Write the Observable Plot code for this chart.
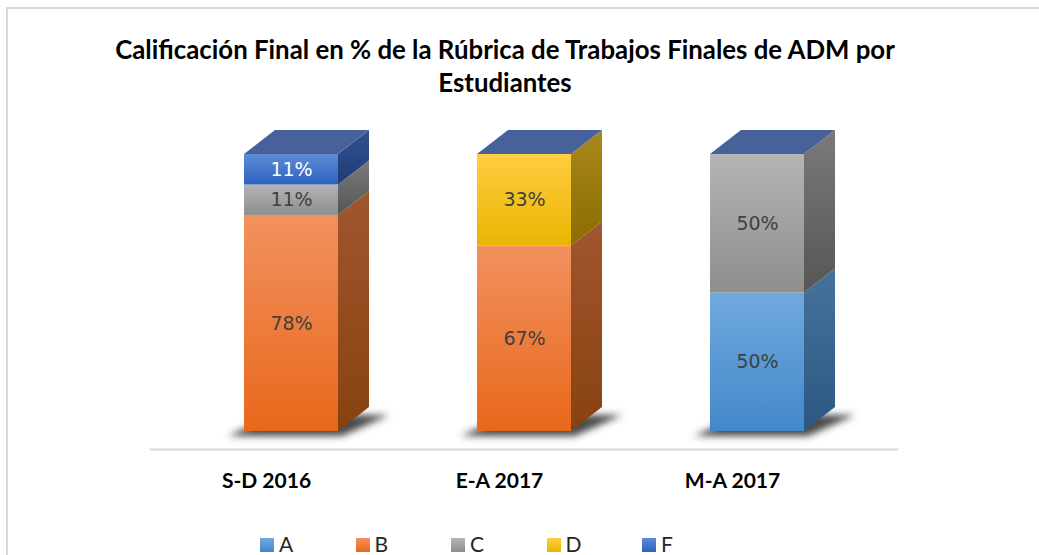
<!DOCTYPE html>
<html>
<head>
<meta charset="utf-8">
<script src="https://cdn.jsdelivr.net/npm/d3@7"></script>
<script src="https://cdn.jsdelivr.net/npm/@observablehq/plot@0.6"></script>
<style>
  html, body { margin: 0; padding: 0; background: #fff; }
  #page { position: relative; width: 1039px; height: 555px; overflow: hidden; background: #fff; }
  #frame { position: absolute; left: 6px; top: 7px; width: 1100px; height: 700px; border: 2px solid #d9d9d9; box-sizing: border-box; }
  #title { position: absolute; left: 0; top: 33px; width: 1010px; text-align: center; font-family: Lato, "Open Sans", sans-serif; font-weight: bold; font-size: 21px; line-height: 33px; color: #000; }
  #chart { position: absolute; left: 0; top: 100px; }
  #legend { position: absolute; left: 0; top: 534px; width: 1039px; height: 24px; font-family: Lato, "Open Sans", sans-serif; font-size: 21px; color: #262626; }
  .item { position: absolute; top: 0; height: 24px; }
  .sw { position: absolute; left: 0; top: 4px; width: 14px; height: 14px; }
  .lb { position: absolute; left: 19px; top: -2px; line-height: 24px; }
</style>
</head>
<body>
<div id="page">
  <div id="frame"></div>
  <div id="title"><span id="t1">Calificación Final en % de la Rúbrica de Trabajos Finales de ADM por</span><br><span>Estudiantes</span></div>
  <div id="chart"></div>
  <div id="legend"></div>
</div>
<script>
// ---- data ----
const categories = ["S-D 2016", "E-A 2017", "M-A 2017"];
const grades = ["A", "B", "C", "D", "F"];
const valuesA = [0, 0, 0.50];
const valuesB = [0.78, 0.67, 0];
const valuesC = [0.11, 0, 0.50];
const valuesD = [0, 0.33, 0];
const valuesF = [0.11, 0, 0];

// ---- styles ----
const frontColors = {A: ["#70a9de", "#4388cb"], B: ["#f2915f", "#e8681b"], C: ["#b5b5b5", "#8e8e8e"], D: ["#ffcd42", "#e9b500"], F: ["#5d8cd9", "#2f61bf"]};
const sideColors  = {A: ["#46729c", "#2b5882"], B: ["#a0562f", "#88420f"], C: ["#7a7a7a", "#565656"], D: ["#a9881c", "#8a6c00"], F: ["#31528f", "#203b75"]};
const topColor = "#47629b";
const labelColors = {A: "#404040", B: "#404040", C: "#404040", D: "#404040", F: "#ffffff"};

const seriesValues = {A: valuesA, B: valuesB, C: valuesC, D: valuesD, F: valuesF};
const rows = [];
grades.forEach(g => categories.forEach((c, i) => {
  const v = seriesValues[g][i];
  if (v > 0) rows.push({cat: c, grade: g, value: v});
}));

const DX = 31, DY = 24;
const NS = "http://www.w3.org/2000/svg";
function el(name, attrs) {
  const e = document.createElementNS(NS, name);
  for (const k in attrs) e.setAttribute(k, attrs[k]);
  return e;
}

function render3d(index, scales, values, dimensions, context, next) {
  const bars = next(index, scales, values, dimensions, context);
  const bw = scales.x.bandwidth();
  const out = el("g", {});
  const shadows = el("g", {filter: "url(#blur)"});
  const sides = el("g", {});
  const tops = el("g", {});
  const topByX = new Map();
  const baseByX = new Map();
  for (const i of index) {
    const x0 = values.x[i];
    const yT = Math.min(values.y1[i], values.y2[i]);
    const yB = Math.max(values.y1[i], values.y2[i]);
    const g = rows[i].grade;
    sides.appendChild(el("polygon", {
      points: `${x0 + bw},${yB} ${x0 + bw + DX},${yB - DY} ${x0 + bw + DX},${yT - DY} ${x0 + bw},${yT}`,
      fill: `url(#s${g})`
    }));
    if (!topByX.has(x0) || yT < topByX.get(x0)) topByX.set(x0, yT);
    if (!baseByX.has(x0) || yB > baseByX.get(x0)) baseByX.set(x0, yB);
  }
  for (const [x0, yT] of topByX) {
    tops.appendChild(el("polygon", {
      points: `${x0},${yT} ${x0 + DX},${yT - DY} ${x0 + bw + DX},${yT - DY} ${x0 + bw},${yT}`,
      fill: topColor
    }));
  }
  for (const [x0, yB] of baseByX) {
    shadows.appendChild(el("polygon", {
      points: `${x0 - 16},${yB + 5} ${x0 + bw + 4},${yB + 5} ${x0 + bw + DX + 20},${yB - DY + 8} ${x0 + DX},${yB - DY + 8}`,
      fill: "#2a2a2a", "fill-opacity": 0.85
    }));
  }
  out.appendChild(shadows);
  out.appendChild(sides);
  out.appendChild(bars);
  out.appendChild(tops);
  return out;
}

// colour each label after layout, following its row's grade
function colourLabels(index, scales, values, dimensions, context, next) {
  const g = next(index, scales, values, dimensions, context);
  const texts = g.querySelectorAll("text");
  let k = 0;
  for (const i of index) {
    if (texts[k]) texts[k].setAttribute("fill", labelColors[rows[i].grade]);
    k++;
  }
  return g;
}

const pct = d => Math.round(d.value * 100) + "%";

const chart = Plot.plot({
  width: 1039,
  height: 400,
  marginLeft: 150,
  marginRight: 141,
  marginTop: 54,
  marginBottom: 69,
  style: {background: "transparent", overflow: "visible"},
  x: {type: "band", domain: categories, paddingInner: 0.5966, paddingOuter: 0.4034, axis: null},
  y: {domain: [0, 1], axis: null},
  color: {domain: grades, range: grades.map(g => `url(#f${g})`)},
  marks: [
    Plot.ruleY([0], {stroke: "#d9d9d9", strokeWidth: 2, dy: 18}),
    Plot.barY(rows, Plot.stackY({x: "cat", y: "value", fill: "grade", render: render3d})),
    Plot.text(rows, Plot.stackY({x: "cat", y: "value", text: pct, fill: "#404040", fontSize: 19, fontFamily: "DejaVu Sans", render: colourLabels})),
    Plot.axisX({label: null, tickSize: 0, tickPadding: 42, dx: -25, fontSize: 21, fontWeight: "bold", fontFamily: "Lato, 'Open Sans', sans-serif", color: "#000", fill: "#000"})
  ]
});

// gradients and filter
const defs = el("defs", {});
function grad(id, c) {
  const lg = el("linearGradient", {id, x1: 0, y1: 0, x2: 0, y2: 1});
  lg.appendChild(el("stop", {offset: "0%", "stop-color": c[0]}));
  lg.appendChild(el("stop", {offset: "100%", "stop-color": c[1]}));
  defs.appendChild(lg);
}
grades.forEach(g => { grad("f" + g, frontColors[g]); grad("s" + g, sideColors[g]); });
const filt = el("filter", {id: "blur", x: "-50%", y: "-100%", width: "200%", height: "300%"});
filt.appendChild(el("feGaussianBlur", {stdDeviation: 3.5}));
defs.appendChild(filt);
chart.insertBefore(defs, chart.firstChild);
document.getElementById("chart").appendChild(chart);

// legend
const legend = document.getElementById("legend");
grades.forEach((g, i) => {
  const item = document.createElement("div");
  item.className = "item";
  item.style.left = (260 + i * 95.5) + "px";
  const sw = document.createElement("div");
  sw.className = "sw";
  sw.style.background = `linear-gradient(${frontColors[g][0]}, ${frontColors[g][1]})`;
  const lb = document.createElement("div");
  lb.className = "lb";
  lb.textContent = g;
  item.appendChild(sw); item.appendChild(lb);
  legend.appendChild(item);
});

// fit title width to reference (~780px)
const t1 = document.getElementById("t1");
const w = t1.getBoundingClientRect().width;
if (w > 0) {
  const fs = 21 * 780 / w;
  document.getElementById("title").style.fontSize = fs.toFixed(2) + "px";
}
</script>
</body>
</html>
